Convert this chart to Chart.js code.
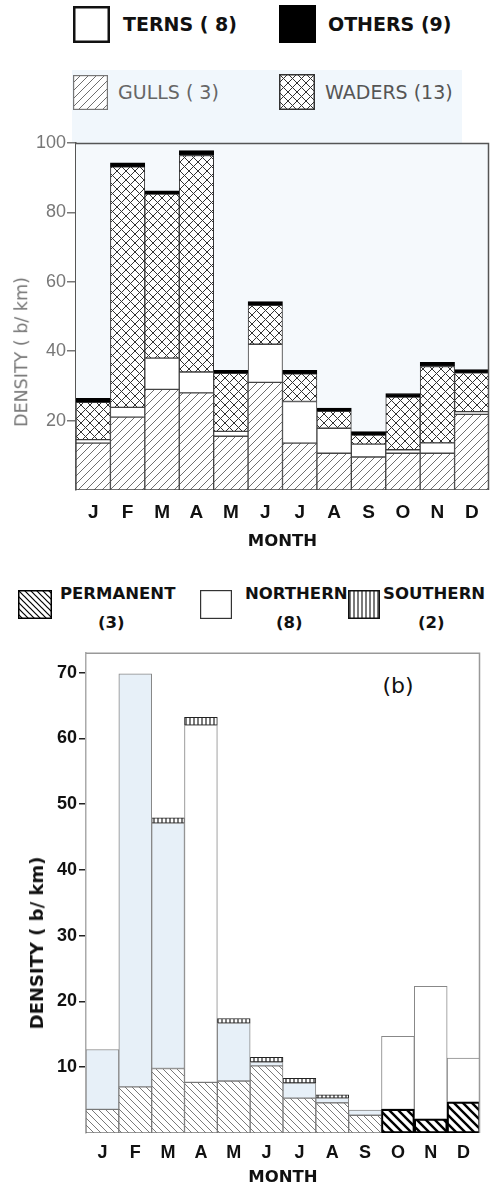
<!DOCTYPE html>
<html>
<head>
<meta charset="utf-8">
<script src="https://cdn.jsdelivr.net/npm/chart.js@4/dist/chart.umd.min.js"></script>
<style>
  body { margin: 0; background: #fff; font-family: 'DejaVu Sans', sans-serif; }
  #page { position: relative; width: 497px; height: 1187px; overflow: hidden; }
  canvas.chart { position: absolute; left: 0; }
  .lg { position: absolute; white-space: nowrap; line-height: 1; font-weight: bold; color: #111; }
  .sw { position: absolute; box-sizing: border-box; }
  .tag { position: absolute; line-height: 1; white-space: nowrap; transform: translate(-50%, -50%); }
  .ytitle { position: absolute; line-height: 1; white-space: nowrap; transform: translate(-50%, -50%) rotate(-90deg); z-index: 2; }
</style>
</head>
<body>
<div id="page">
  <div style="position:absolute;left:72px;top:70px;width:390px;height:73px;background:#f1f7fc;"></div>

  <!-- legend (a) -->
  <canvas class="sw" id="sw-terns" width="37" height="37" style="left:73px;top:6px;"></canvas>
  <div class="lg" style="left:123px;top:15px;font-size:19px;">TERNS ( 8)</div>
  <canvas class="sw" id="sw-others" width="37" height="38" style="left:279px;top:5px;"></canvas>
  <div class="lg" style="left:328px;top:15px;font-size:19px;">OTHERS (9)</div>
  <canvas class="sw" id="sw-gulls" width="35" height="35" style="left:73px;top:75px;"></canvas>
  <div class="lg" style="left:118px;top:83px;font-size:19px;color:#666;font-weight:normal;">GULLS ( 3)</div>
  <canvas class="sw" id="sw-waders" width="36" height="36" style="left:279px;top:74px;"></canvas>
  <div class="lg" style="left:325px;top:83px;font-size:19px;color:#555;font-weight:normal;">WADERS (13)</div>

  <div class="tag" style="left:408px;top:183px;font-size:21px;color:#555;">(a)</div>
  <div class="ytitle" style="left:22px;top:352px;font-size:17.5px;color:#777;">DENSITY ( b/ km)</div>

  <canvas class="chart" id="chart-a" style="top:0;"></canvas>

  <!-- legend (b) -->
  <canvas class="sw" id="sw-perm" width="34" height="29" style="left:18px;top:590px;"></canvas>
  <div class="lg" style="left:60px;top:586px;font-size:16.5px;">PERMANENT</div>
  <div class="lg" style="left:98px;top:615px;font-size:16.5px;">(3)</div>
  <canvas class="sw" id="sw-north" width="32" height="29" style="left:200px;top:590px;"></canvas>
  <div class="lg" style="left:245px;top:586px;font-size:16.5px;">NORTHERN</div>
  <div class="lg" style="left:276px;top:615px;font-size:16.5px;">(8)</div>
  <canvas class="sw" id="sw-south" width="32" height="29" style="left:348px;top:590px;"></canvas>
  <div class="lg" style="left:383px;top:586px;font-size:16.5px;">SOUTHERN</div>
  <div class="lg" style="left:418px;top:615px;font-size:16.5px;">(2)</div>

  <div class="tag" style="left:398px;top:686px;font-size:22px;color:#111;">(b)</div>
  <div class="ytitle" style="left:37px;top:943px;font-size:18px;font-weight:bold;color:#111;">DENSITY ( b/ km)</div>

  <canvas class="chart" id="chart-b" style="top:640px;"></canvas>
</div>

<script>
// ── Data (birds per km) ──
var months = ['J', 'F', 'M', 'A', 'M', 'J', 'J', 'A', 'S', 'O', 'N', 'D'];

// (a) by group
var gulls  = [13.5, 21, 29, 28, 15.5, 31, 13.5, 10.6, 9.5, 10.6, 10.6, 21.8];
var terns  = [1, 2.8, 9, 6, 1.4, 11, 12, 7.2, 3.7, 1, 3, 0.8];
var waders = [10.8, 69.3, 47.3, 62.4, 16.7, 11.2, 8, 4.9, 2.6, 15.2, 22, 11.2];
var others = [1.1, 1.2, 0.9, 1.4, 0.9, 1.1, 1, 0.9, 1, 1, 1.2, 0.9];
var ticksA = [20, 40, 60, 80, 100];

// (b) by origin
var permanent = [3.6, 7, 9.8, 7.7, 7.9, 10.2, 5.3, 4.6, 2.7, 3.6, 2.1, 4.7];
var northern  = [9.1, 62.8, 37.3, 54.3, 8.8, 0.6, 2.3, 0.7, 0.8, 11.1, 20.2, 6.7];
var southern  = [0, 0, 0.8, 1.2, 0.7, 0.7, 0.7, 0.5, 0, 0, 0, 0];
var ticksB = [10, 20, 30, 40, 50, 60, 70];

// ── hatch patterns ──
function hatch(kind, color, size, lw, bg) {
  var c = document.createElement('canvas');
  c.width = c.height = size;
  var g = c.getContext('2d');
  g.fillStyle = bg || '#fff';
  g.fillRect(0, 0, size, size);
  g.strokeStyle = color;
  g.lineWidth = lw;
  g.beginPath();
  if (kind === '/' || kind === 'x') {
    g.moveTo(0, size); g.lineTo(size, 0);
    g.moveTo(-size / 2, size / 2); g.lineTo(size / 2, -size / 2);
    g.moveTo(size / 2, size * 1.5); g.lineTo(size * 1.5, size / 2);
  }
  if (kind === '\\' || kind === 'x') {
    g.moveTo(0, 0); g.lineTo(size, size);
    g.moveTo(-size / 2, size / 2); g.lineTo(size / 2, size * 1.5);
    g.moveTo(size / 2, -size / 2); g.lineTo(size * 1.5, size / 2);
  }
  if (kind === '|') {
    g.moveTo(size / 2, 0); g.lineTo(size / 2, size);
  }
  g.stroke();
  return g.createPattern(c, 'repeat');
}

var gullFill   = hatch('/', '#6f6f6f', 8, 1);
var waderFill  = hatch('x', '#333', 9, 1);
var permLight  = hatch('\\', '#7a7a7a', 7, 1);
var permBold   = hatch('\\', '#000', 9, 2.4);
var southFill  = hatch('|', '#222', 4, 1.2);

// per-month styling for (b) (scan tint on the early bars, heavier hatch in autumn)
var northColors = ['#e7f0f8', '#e7f0f8', '#e7f0f8', '#fff', '#e7f0f8', '#e7f0f8', '#e7f0f8', '#e7f0f8', '#e7f0f8', '#fff', '#fff', '#fff'];
var permColors = [permLight, permLight, permLight, permLight, permLight, permLight, permLight, permLight, permLight, permBold, permBold, permBold];
var permBorders = ['#777', '#777', '#777', '#777', '#777', '#777', '#777', '#777', '#777', '#000', '#000', '#000'];
var permBorderW = [1, 1, 1, 1, 1, 1, 1, 1, 1, 2, 2, 2];

// ── legend swatches ──
function swatch(id, fill, stroke, lw) {
  var c = document.getElementById(id);
  var g = c.getContext('2d');
  g.fillStyle = fill;
  g.fillRect(0, 0, c.width, c.height);
  g.strokeStyle = stroke;
  g.lineWidth = lw;
  g.strokeRect(lw / 2, lw / 2, c.width - lw, c.height - lw);
}
swatch('sw-terns', '#fff', '#111', 2.5);
swatch('sw-others', '#000', '#000', 1);
swatch('sw-gulls', gullFill, '#777', 1.2);
swatch('sw-waders', waderFill, '#333', 1.5);
swatch('sw-perm', hatch('\\', '#000', 6, 1.2), '#000', 1.5);
swatch('sw-north', '#fff', '#333', 1.2);
swatch('sw-south', southFill, '#111', 1.5);

var FONT = "'Liberation Sans', Arial, sans-serif";
var WIDE = "'DejaVu Sans', sans-serif";

// frame on top/right of plot area, optional tint behind it
var framePlugin = {
  id: 'frame',
  beforeDatasetsDraw: function(chart, args, opts) {
    var a = chart.chartArea, ctx = chart.ctx;
    if (opts.bg) {
      ctx.save();
      ctx.fillStyle = opts.bg;
      ctx.fillRect(a.left, a.top, a.right - a.left, a.bottom - a.top);
      ctx.restore();
    }
  },
  afterDraw: function(chart, args, opts) {
    var a = chart.chartArea, ctx = chart.ctx;
    ctx.save();
    ctx.strokeStyle = opts.color || '#666';
    ctx.lineWidth = opts.width || 1;
    ctx.beginPath();
    ctx.moveTo(a.left, a.top + 0.5);
    ctx.lineTo(a.right - 0.5, a.top + 0.5);
    ctx.lineTo(a.right - 0.5, a.bottom);
    ctx.stroke();
    ctx.restore();
  }
};

function bar(label, data, fill, border, bw) {
  return {
    label: label, data: data, backgroundColor: fill,
    borderColor: border, borderWidth: bw, borderSkipped: false,
    barPercentage: 1, categoryPercentage: 1, stack: 's'
  };
}

// ── Chart (a) ──
var canA = document.getElementById('chart-a');
canA.width = 497; canA.height = 560;
new Chart(canA, {
  type: 'bar',
  data: {
    labels: months,
    datasets: [
      bar('GULLS (3)', gulls, gullFill, '#444', 1),
      bar('TERNS (8)', terns, '#fff', '#444', 1),
      bar('WADERS (13)', waders, waderFill, '#333', 1),
      bar('OTHERS (9)', others, '#000', '#000', 1)
    ]
  },
  options: {
    responsive: false, animation: false,
    layout: { padding: { top: 143, right: 8, left: 0, bottom: 0 } },
    plugins: { legend: { display: false }, tooltip: { enabled: false }, frame: { color: '#555', width: 1.5, bg: '#f5f9fc' } },
    scales: {
      x: {
        stacked: true,
        grid: { display: false, drawTicks: false },
        border: { display: false },
        ticks: { color: '#111', font: { family: FONT, size: 19, weight: 'bold' }, padding: 11 },
        title: { display: true, text: 'MONTH', color: '#111', font: { family: WIDE, size: 16.5, weight: 'bold', lineHeight: 1 }, padding: { top: 0, bottom: 10 } },
        afterFit: function(s) { s.height = 70; }
      },
      y: {
        stacked: true, min: 0, max: 100,
        afterBuildTicks: function(s) { s.ticks = ticksA.map(function(v) { return { value: v }; }); },
        grid: { drawOnChartArea: false, tickLength: 9, color: '#777', lineWidth: 1.5 },
        border: { color: '#555', width: 1.5 },
        ticks: { color: '#777', font: { family: FONT, size: 18 }, padding: 1 },
        afterFit: function(s) { s.width = 76; }
      }
    }
  },
  plugins: [framePlugin]
});

// ── Chart (b) ──
var canB = document.getElementById('chart-b');
canB.width = 497; canB.height = 547;
new Chart(canB, {
  type: 'bar',
  data: {
    labels: months,
    datasets: [
      bar('PERMANENT (3)', permanent, permColors, permBorders, permBorderW),
      bar('NORTHERN (8)', northern, northColors, '#888', 1),
      bar('SOUTHERN (2)', southern, southFill, '#222', 1)
    ]
  },
  options: {
    responsive: false, animation: false,
    layout: { padding: { top: 12, right: 17, left: 0, bottom: 0 } },
    plugins: { legend: { display: false }, tooltip: { enabled: false }, frame: { color: '#999', width: 1.5 } },
    scales: {
      x: {
        stacked: true,
        grid: { display: false, drawTicks: false },
        border: { display: false },
        ticks: { color: '#111', font: { family: FONT, size: 18, weight: 'bold' }, padding: 9 },
        title: { display: true, text: 'MONTH', color: '#111', font: { family: WIDE, size: 16.5, weight: 'bold', lineHeight: 1 }, padding: { top: 0, bottom: 1 } },
        afterFit: function(s) { s.height = 54; }
      },
      y: {
        stacked: true, min: 0, max: 73,
        afterBuildTicks: function(s) { s.ticks = ticksB.map(function(v) { return { value: v }; }); },
        grid: { drawOnChartArea: false, tickLength: 7, color: '#222', lineWidth: 1.5 },
        border: { color: '#aaa', width: 1.5 },
        ticks: { color: '#111', font: { family: FONT, size: 18, weight: 'bold' }, padding: 2 },
        afterFit: function(s) { s.width = 86; }
      }
    }
  },
  plugins: [framePlugin]
});
</script>
</body>
</html>
